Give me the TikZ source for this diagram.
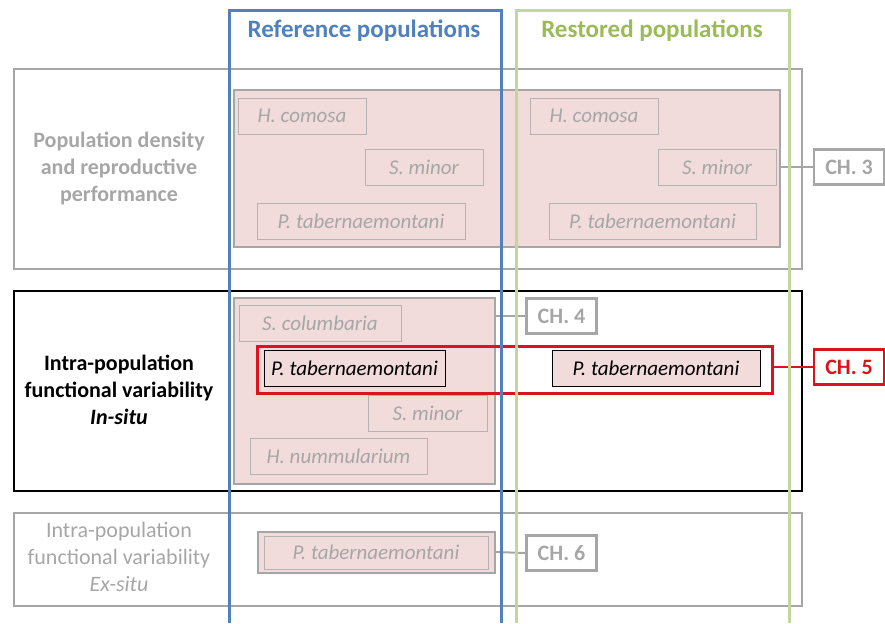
\documentclass[tikz,border=0pt]{standalone}
\usepackage{fontspec}
\setmainfont{Carlito}
\definecolor{gr}{RGB}{166,166,166}
\definecolor{pinkf}{RGB}{242,220,219}
\definecolor{blu}{RGB}{79,129,189}
\definecolor{grnt}{RGB}{155,187,89}
\definecolor{grnl}{RGB}{195,214,155}
\definecolor{redc}{RGB}{218,20,28}
\begin{document}
\begin{tikzpicture}[x=1pt,y=-1pt,
  rowbox/.style={draw=gr,line width=2.5pt},
  pinkbox/.style={draw=gr,fill=pinkf,line width=2.5pt},
  sp/.style={draw=gr!85!white,fill=pinkf,line width=0.8pt,text=gr,font=\fontsize{21}{25}\selectfont\itshape,inner sep=0pt,minimum height=36pt},
  spk/.style={draw=black,fill=pinkf,line width=0.8pt,text=black,font=\fontsize{21}{25}\selectfont\itshape,inner sep=0pt,minimum height=36pt},
  chap/.style={draw=gr,fill=white,line width=2.5pt,text=gr,font=\fontsize{22}{26}\selectfont\bfseries,inner sep=0pt,minimum width=70pt,minimum height=35pt},
  conn/.style={draw=gr,line width=2pt},
  rowlab/.style={align=center,font=\fontsize{22}{27}\selectfont}
]
\useasboundingbox (0,0) rectangle (885,623);
% Row 1
\draw[rowbox] (14,69) rectangle (802,269);
\node[rowlab,text=gr,font=\fontsize{22}{27}\selectfont\bfseries] (l1) at (119,168) {Population density\\and reproductive\\performance};
\draw[pinkbox] (234,90) rectangle (780,247);
\coordinate (p1r) at (780,167);
\node[sp,minimum width=128pt] (hc1) at (302,116) {H. comosa};
\node[sp,minimum width=118pt] (sm1) at (424,167) {S. minor};
\node[sp,minimum width=208pt] (pt1) at (361,221.5) {P. tabernaemontani};
\node[sp,minimum width=128pt] (hc2) at (594,116) {H. comosa};
\node[sp,minimum width=118pt] (sm2) at (717,167) {S. minor};
\node[sp,minimum width=207pt] (pt2) at (652.5,221.5) {P. tabernaemontani};
\node[chap] (ch3) at (849,167) {CH. 3};
\draw[conn] (p1r) -- (ch3.west);
% Row 2
\draw[draw=black,line width=2.5pt] (14,291) rectangle (802,491);
\node[rowlab,text=black,font=\fontsize{22}{27}\selectfont\bfseries] (l2) at (119,390) {Intra-population\\functional variability\\\textit{In-situ}};
\draw[pinkbox] (234,298) rectangle (495,484);
\coordinate (p2r) at (495,316);
\node[sp,minimum width=162pt] (sc) at (320,323.5) {S. columbaria};
\node[sp,minimum width=119pt] (sm3) at (427.5,413) {S. minor};
\node[sp,minimum width=177pt] (hn) at (338.5,456.5) {H. nummularium};
\node[chap] (ch4) at (561.5,316) {CH. 4};
\draw[conn] (p2r) -- (ch4.west);
\draw[draw=redc,line width=3pt] (257,346) rectangle (772,393);
\coordinate (rr) at (772,367);
\node[spk,minimum width=181pt] (pt3) at (354.5,368) {P. tabernaemontani};
\node[spk,minimum width=208pt] (pt4) at (656,368) {P. tabernaemontani};
\node[chap,draw=redc,text=redc] (ch5) at (849,367) {CH. 5};
\draw[conn,draw=redc,line width=2.5pt] (rr) -- (ch5.west);
% Row 3
\draw[rowbox] (14,513) rectangle (802,606);
\node[rowlab,text=gr] (l3) at (119,557) {Intra-population\\functional variability\\\textit{Ex-situ}};
\draw[pinkbox] (258,532) rectangle (495,573);
\coordinate (p3r) at (495,552);
\node[sp,minimum width=224pt,minimum height=33pt] (pt5) at (376,552.5) {P. tabernaemontani};
\node[chap] (ch6) at (561.5,553) {CH. 6};
\draw[conn] (p3r) -- (ch6.west);
% Columns
\draw[draw=blu,line width=3pt] (229,623) -- (229,11) -- (501,11) -- (501,623);
\draw[draw=grnl,line width=3pt] (516,623) -- (516,11) -- (789,11) -- (789,623);
\node[text=blu,font=\fontsize{25}{29}\selectfont\bfseries] (t1) at (364,31) {Reference populations};
\node[text=grnt,font=\fontsize{25}{29}\selectfont\bfseries] (t2) at (652,31) {Restored populations};
\end{tikzpicture}
\end{document}
